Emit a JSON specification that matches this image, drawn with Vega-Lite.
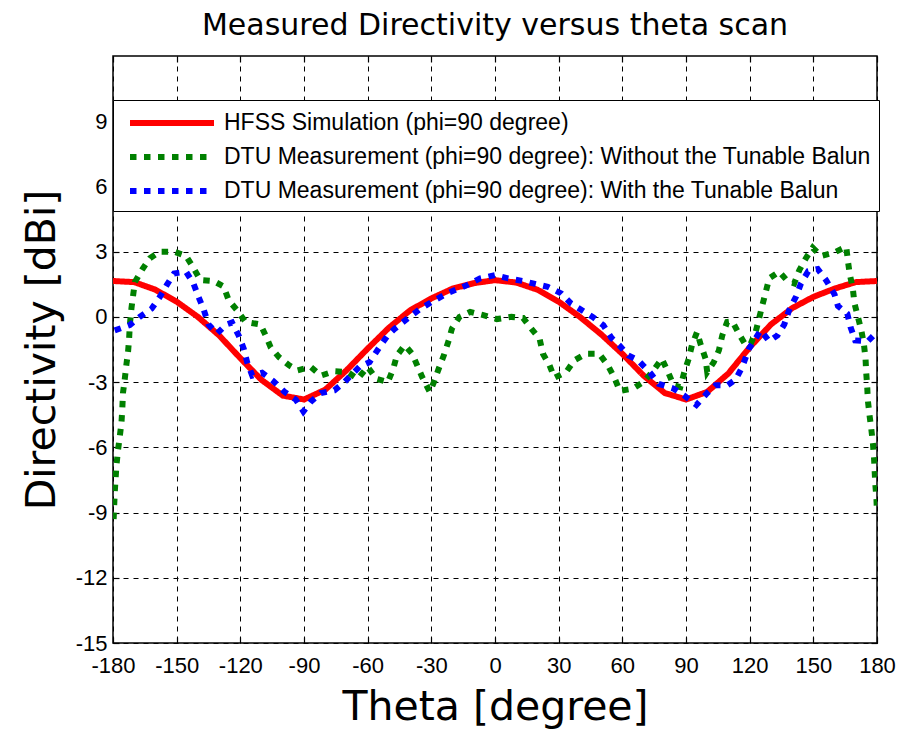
{
  "$schema": "https://vega.github.io/schema/vega-lite/v6.json",
  "autosize": "none",
  "width": 764,
  "height": 587,
  "padding": {"left": 113, "top": 56, "right": 21, "bottom": 94},
  "background": "white",
  "title": {"text": "Measured Directivity versus theta scan", "font": "DejaVu Sans", "fontSize": 30, "fontWeight": "normal", "color": "black", "offset": 14},
  "config": {
    "view": {"stroke": "black", "strokeWidth": 1.5},
    "axis": {"gridColor": "black", "gridDash": [5, 5], "gridOpacity": 1, "gridWidth": 1, "domain": false, "tickColor": "black", "tickSize": -6, "tickWidth": 1.2, "labelColor": "black", "titleColor": "black", "titleFontWeight": "normal", "labelFont": "Liberation Sans", "labelFontSize": 22, "labelExpr": "'' + datum.value"}
  },
  "data": {"values": [
    {"series": "HFSS Simulation (phi=90 degree)", "theta": -180, "dir": 1.65},
    {"series": "HFSS Simulation (phi=90 degree)", "theta": -170, "dir": 1.6},
    {"series": "HFSS Simulation (phi=90 degree)", "theta": -160, "dir": 1.25},
    {"series": "HFSS Simulation (phi=90 degree)", "theta": -150, "dir": 0.7},
    {"series": "HFSS Simulation (phi=90 degree)", "theta": -140, "dir": 0.0},
    {"series": "HFSS Simulation (phi=90 degree)", "theta": -130, "dir": -0.85},
    {"series": "HFSS Simulation (phi=90 degree)", "theta": -120, "dir": -1.9},
    {"series": "HFSS Simulation (phi=90 degree)", "theta": -110, "dir": -2.9},
    {"series": "HFSS Simulation (phi=90 degree)", "theta": -100, "dir": -3.62},
    {"series": "HFSS Simulation (phi=90 degree)", "theta": -90, "dir": -3.8},
    {"series": "HFSS Simulation (phi=90 degree)", "theta": -80, "dir": -3.35},
    {"series": "HFSS Simulation (phi=90 degree)", "theta": -70, "dir": -2.46},
    {"series": "HFSS Simulation (phi=90 degree)", "theta": -60, "dir": -1.46},
    {"series": "HFSS Simulation (phi=90 degree)", "theta": -50, "dir": -0.5},
    {"series": "HFSS Simulation (phi=90 degree)", "theta": -40, "dir": 0.3},
    {"series": "HFSS Simulation (phi=90 degree)", "theta": -30, "dir": 0.85},
    {"series": "HFSS Simulation (phi=90 degree)", "theta": -20, "dir": 1.3},
    {"series": "HFSS Simulation (phi=90 degree)", "theta": -10, "dir": 1.55},
    {"series": "HFSS Simulation (phi=90 degree)", "theta": 0, "dir": 1.69},
    {"series": "HFSS Simulation (phi=90 degree)", "theta": 10, "dir": 1.58},
    {"series": "HFSS Simulation (phi=90 degree)", "theta": 20, "dir": 1.25},
    {"series": "HFSS Simulation (phi=90 degree)", "theta": 30, "dir": 0.7},
    {"series": "HFSS Simulation (phi=90 degree)", "theta": 40, "dir": 0.0},
    {"series": "HFSS Simulation (phi=90 degree)", "theta": 50, "dir": -0.8},
    {"series": "HFSS Simulation (phi=90 degree)", "theta": 60, "dir": -1.7},
    {"series": "HFSS Simulation (phi=90 degree)", "theta": 70, "dir": -2.7},
    {"series": "HFSS Simulation (phi=90 degree)", "theta": 80, "dir": -3.5},
    {"series": "HFSS Simulation (phi=90 degree)", "theta": 90, "dir": -3.8},
    {"series": "HFSS Simulation (phi=90 degree)", "theta": 100, "dir": -3.45},
    {"series": "HFSS Simulation (phi=90 degree)", "theta": 110, "dir": -2.6},
    {"series": "HFSS Simulation (phi=90 degree)", "theta": 120, "dir": -1.4},
    {"series": "HFSS Simulation (phi=90 degree)", "theta": 130, "dir": -0.35},
    {"series": "HFSS Simulation (phi=90 degree)", "theta": 140, "dir": 0.4},
    {"series": "HFSS Simulation (phi=90 degree)", "theta": 150, "dir": 0.92},
    {"series": "HFSS Simulation (phi=90 degree)", "theta": 160, "dir": 1.3},
    {"series": "HFSS Simulation (phi=90 degree)", "theta": 170, "dir": 1.6},
    {"series": "HFSS Simulation (phi=90 degree)", "theta": 180, "dir": 1.65},

    {"series": "DTU Measurement (phi=90 degree): Without the Tunable Balun", "theta": -179.7, "dir": -9.3},
    {"series": "DTU Measurement (phi=90 degree): Without the Tunable Balun", "theta": -179.2, "dir": -8.1},
    {"series": "DTU Measurement (phi=90 degree): Without the Tunable Balun", "theta": -178.4, "dir": -6.85},
    {"series": "DTU Measurement (phi=90 degree): Without the Tunable Balun", "theta": -177.6, "dir": -6.1},
    {"series": "DTU Measurement (phi=90 degree): Without the Tunable Balun", "theta": -176.8, "dir": -5.5},
    {"series": "DTU Measurement (phi=90 degree): Without the Tunable Balun", "theta": -176.0, "dir": -4.85},
    {"series": "DTU Measurement (phi=90 degree): Without the Tunable Balun", "theta": -175.6, "dir": -4.2},
    {"series": "DTU Measurement (phi=90 degree): Without the Tunable Balun", "theta": -175.3, "dir": -3.5},
    {"series": "DTU Measurement (phi=90 degree): Without the Tunable Balun", "theta": -174.5, "dir": -2.9},
    {"series": "DTU Measurement (phi=90 degree): Without the Tunable Balun", "theta": -173.7, "dir": -2.2},
    {"series": "DTU Measurement (phi=90 degree): Without the Tunable Balun", "theta": -172.9, "dir": -1.6},
    {"series": "DTU Measurement (phi=90 degree): Without the Tunable Balun", "theta": -172.4, "dir": -1.0},
    {"series": "DTU Measurement (phi=90 degree): Without the Tunable Balun", "theta": -172.1, "dir": -0.4},
    {"series": "DTU Measurement (phi=90 degree): Without the Tunable Balun", "theta": -171.3, "dir": 0.4},
    {"series": "DTU Measurement (phi=90 degree): Without the Tunable Balun", "theta": -170.5, "dir": 1.0},
    {"series": "DTU Measurement (phi=90 degree): Without the Tunable Balun", "theta": -169.7, "dir": 1.6},
    {"series": "DTU Measurement (phi=90 degree): Without the Tunable Balun", "theta": -166.1, "dir": 2.2},
    {"series": "DTU Measurement (phi=90 degree): Without the Tunable Balun", "theta": -162.6, "dir": 2.7},
    {"series": "DTU Measurement (phi=90 degree): Without the Tunable Balun", "theta": -157.9, "dir": 3.0},
    {"series": "DTU Measurement (phi=90 degree): Without the Tunable Balun", "theta": -151.2, "dir": 3.0},
    {"series": "DTU Measurement (phi=90 degree): Without the Tunable Balun", "theta": -145.6, "dir": 2.8},
    {"series": "DTU Measurement (phi=90 degree): Without the Tunable Balun", "theta": -142.1, "dir": 2.26},
    {"series": "DTU Measurement (phi=90 degree): Without the Tunable Balun", "theta": -138.9, "dir": 1.7},
    {"series": "DTU Measurement (phi=90 degree): Without the Tunable Balun", "theta": -132.6, "dir": 1.65},
    {"series": "DTU Measurement (phi=90 degree): Without the Tunable Balun", "theta": -127.9, "dir": 1.4},
    {"series": "DTU Measurement (phi=90 degree): Without the Tunable Balun", "theta": -125.5, "dir": 0.77},
    {"series": "DTU Measurement (phi=90 degree): Without the Tunable Balun", "theta": -121.5, "dir": 0.3},
    {"series": "DTU Measurement (phi=90 degree): Without the Tunable Balun", "theta": -117.6, "dir": -0.23},
    {"series": "DTU Measurement (phi=90 degree): Without the Tunable Balun", "theta": -110.5, "dir": -0.35},
    {"series": "DTU Measurement (phi=90 degree): Without the Tunable Balun", "theta": -108.1, "dir": -0.85},
    {"series": "DTU Measurement (phi=90 degree): Without the Tunable Balun", "theta": -105.7, "dir": -1.4},
    {"series": "DTU Measurement (phi=90 degree): Without the Tunable Balun", "theta": -101.8, "dir": -1.85},
    {"series": "DTU Measurement (phi=90 degree): Without the Tunable Balun", "theta": -97.0, "dir": -2.23},
    {"series": "DTU Measurement (phi=90 degree): Without the Tunable Balun", "theta": -93.1, "dir": -2.46},
    {"series": "DTU Measurement (phi=90 degree): Without the Tunable Balun", "theta": -86.8, "dir": -2.3},
    {"series": "DTU Measurement (phi=90 degree): Without the Tunable Balun", "theta": -82.0, "dir": -2.7},
    {"series": "DTU Measurement (phi=90 degree): Without the Tunable Balun", "theta": -75.7, "dir": -2.5},
    {"series": "DTU Measurement (phi=90 degree): Without the Tunable Balun", "theta": -69.4, "dir": -2.54},
    {"series": "DTU Measurement (phi=90 degree): Without the Tunable Balun", "theta": -64.7, "dir": -2.85},
    {"series": "DTU Measurement (phi=90 degree): Without the Tunable Balun", "theta": -60.0, "dir": -2.3},
    {"series": "DTU Measurement (phi=90 degree): Without the Tunable Balun", "theta": -56.0, "dir": -2.85},
    {"series": "DTU Measurement (phi=90 degree): Without the Tunable Balun", "theta": -50.5, "dir": -3.0},
    {"series": "DTU Measurement (phi=90 degree): Without the Tunable Balun", "theta": -48.0, "dir": -2.4},
    {"series": "DTU Measurement (phi=90 degree): Without the Tunable Balun", "theta": -46.2, "dir": -1.77},
    {"series": "DTU Measurement (phi=90 degree): Without the Tunable Balun", "theta": -42.5, "dir": -1.3},
    {"series": "DTU Measurement (phi=90 degree): Without the Tunable Balun", "theta": -39.0, "dir": -1.7},
    {"series": "DTU Measurement (phi=90 degree): Without the Tunable Balun", "theta": -34.3, "dir": -2.77},
    {"series": "DTU Measurement (phi=90 degree): Without the Tunable Balun", "theta": -30.7, "dir": -3.46},
    {"series": "DTU Measurement (phi=90 degree): Without the Tunable Balun", "theta": -28.8, "dir": -3.0},
    {"series": "DTU Measurement (phi=90 degree): Without the Tunable Balun", "theta": -26.5, "dir": -2.38},
    {"series": "DTU Measurement (phi=90 degree): Without the Tunable Balun", "theta": -24.1, "dir": -1.77},
    {"series": "DTU Measurement (phi=90 degree): Without the Tunable Balun", "theta": -21.8, "dir": -1.08},
    {"series": "DTU Measurement (phi=90 degree): Without the Tunable Balun", "theta": -20.3, "dir": -0.54},
    {"series": "DTU Measurement (phi=90 degree): Without the Tunable Balun", "theta": -16.7, "dir": 0.0},
    {"series": "DTU Measurement (phi=90 degree): Without the Tunable Balun", "theta": -11.7, "dir": 0.23},
    {"series": "DTU Measurement (phi=90 degree): Without the Tunable Balun", "theta": -5.5, "dir": 0.08},
    {"series": "DTU Measurement (phi=90 degree): Without the Tunable Balun", "theta": 0.8, "dir": -0.1},
    {"series": "DTU Measurement (phi=90 degree): Without the Tunable Balun", "theta": 7.8, "dir": 0.0},
    {"series": "DTU Measurement (phi=90 degree): Without the Tunable Balun", "theta": 13.2, "dir": -0.05},
    {"series": "DTU Measurement (phi=90 degree): Without the Tunable Balun", "theta": 17.1, "dir": -0.54},
    {"series": "DTU Measurement (phi=90 degree): Without the Tunable Balun", "theta": 21.0, "dir": -1.0},
    {"series": "DTU Measurement (phi=90 degree): Without the Tunable Balun", "theta": 22.6, "dir": -1.7},
    {"series": "DTU Measurement (phi=90 degree): Without the Tunable Balun", "theta": 25.7, "dir": -2.23},
    {"series": "DTU Measurement (phi=90 degree): Without the Tunable Balun", "theta": 28.0, "dir": -2.8},
    {"series": "DTU Measurement (phi=90 degree): Without the Tunable Balun", "theta": 33.5, "dir": -2.54},
    {"series": "DTU Measurement (phi=90 degree): Without the Tunable Balun", "theta": 37.4, "dir": -2.0},
    {"series": "DTU Measurement (phi=90 degree): Without the Tunable Balun", "theta": 42.8, "dir": -1.7},
    {"series": "DTU Measurement (phi=90 degree): Without the Tunable Balun", "theta": 49.1, "dir": -1.7},
    {"series": "DTU Measurement (phi=90 degree): Without the Tunable Balun", "theta": 53.2, "dir": -2.23},
    {"series": "DTU Measurement (phi=90 degree): Without the Tunable Balun", "theta": 56.3, "dir": -2.8},
    {"series": "DTU Measurement (phi=90 degree): Without the Tunable Balun", "theta": 58.8, "dir": -3.4},
    {"series": "DTU Measurement (phi=90 degree): Without the Tunable Balun", "theta": 65.0, "dir": -3.3},
    {"series": "DTU Measurement (phi=90 degree): Without the Tunable Balun", "theta": 69.9, "dir": -3.0},
    {"series": "DTU Measurement (phi=90 degree): Without the Tunable Balun", "theta": 74.7, "dir": -2.46},
    {"series": "DTU Measurement (phi=90 degree): Without the Tunable Balun", "theta": 78.6, "dir": -1.92},
    {"series": "DTU Measurement (phi=90 degree): Without the Tunable Balun", "theta": 81.8, "dir": -2.6},
    {"series": "DTU Measurement (phi=90 degree): Without the Tunable Balun", "theta": 84.2, "dir": -3.15},
    {"series": "DTU Measurement (phi=90 degree): Without the Tunable Balun", "theta": 87.3, "dir": -3.23},
    {"series": "DTU Measurement (phi=90 degree): Without the Tunable Balun", "theta": 89.2, "dir": -2.54},
    {"series": "DTU Measurement (phi=90 degree): Without the Tunable Balun", "theta": 91.3, "dir": -1.92},
    {"series": "DTU Measurement (phi=90 degree): Without the Tunable Balun", "theta": 92.8, "dir": -1.3},
    {"series": "DTU Measurement (phi=90 degree): Without the Tunable Balun", "theta": 95.2, "dir": -0.7},
    {"series": "DTU Measurement (phi=90 degree): Without the Tunable Balun", "theta": 96.8, "dir": -1.23},
    {"series": "DTU Measurement (phi=90 degree): Without the Tunable Balun", "theta": 99.2, "dir": -1.92},
    {"series": "DTU Measurement (phi=90 degree): Without the Tunable Balun", "theta": 100.0, "dir": -2.54},
    {"series": "DTU Measurement (phi=90 degree): Without the Tunable Balun", "theta": 103.1, "dir": -2.08},
    {"series": "DTU Measurement (phi=90 degree): Without the Tunable Balun", "theta": 105.5, "dir": -1.54},
    {"series": "DTU Measurement (phi=90 degree): Without the Tunable Balun", "theta": 107.1, "dir": -0.85},
    {"series": "DTU Measurement (phi=90 degree): Without the Tunable Balun", "theta": 109.4, "dir": -0.23},
    {"series": "DTU Measurement (phi=90 degree): Without the Tunable Balun", "theta": 111.8, "dir": -0.2},
    {"series": "DTU Measurement (phi=90 degree): Without the Tunable Balun", "theta": 114.9, "dir": -0.77},
    {"series": "DTU Measurement (phi=90 degree): Without the Tunable Balun", "theta": 118.1, "dir": -1.3},
    {"series": "DTU Measurement (phi=90 degree): Without the Tunable Balun", "theta": 120.5, "dir": -1.23},
    {"series": "DTU Measurement (phi=90 degree): Without the Tunable Balun", "theta": 122.8, "dir": -0.7},
    {"series": "DTU Measurement (phi=90 degree): Without the Tunable Balun", "theta": 124.4, "dir": -0.08},
    {"series": "DTU Measurement (phi=90 degree): Without the Tunable Balun", "theta": 126.0, "dir": 0.54},
    {"series": "DTU Measurement (phi=90 degree): Without the Tunable Balun", "theta": 127.6, "dir": 1.15},
    {"series": "DTU Measurement (phi=90 degree): Without the Tunable Balun", "theta": 129.2, "dir": 1.77},
    {"series": "DTU Measurement (phi=90 degree): Without the Tunable Balun", "theta": 133.9, "dir": 2.08},
    {"series": "DTU Measurement (phi=90 degree): Without the Tunable Balun", "theta": 137.8, "dir": 1.65},
    {"series": "DTU Measurement (phi=90 degree): Without the Tunable Balun", "theta": 141.0, "dir": 1.54},
    {"series": "DTU Measurement (phi=90 degree): Without the Tunable Balun", "theta": 143.4, "dir": 2.15},
    {"series": "DTU Measurement (phi=90 degree): Without the Tunable Balun", "theta": 146.5, "dir": 2.7},
    {"series": "DTU Measurement (phi=90 degree): Without the Tunable Balun", "theta": 149.7, "dir": 3.18},
    {"series": "DTU Measurement (phi=90 degree): Without the Tunable Balun", "theta": 153.6, "dir": 2.8},
    {"series": "DTU Measurement (phi=90 degree): Without the Tunable Balun", "theta": 160.0, "dir": 2.97},
    {"series": "DTU Measurement (phi=90 degree): Without the Tunable Balun", "theta": 165.5, "dir": 3.23},
    {"series": "DTU Measurement (phi=90 degree): Without the Tunable Balun", "theta": 166.3, "dir": 2.57},
    {"series": "DTU Measurement (phi=90 degree): Without the Tunable Balun", "theta": 167.1, "dir": 2.0},
    {"series": "DTU Measurement (phi=90 degree): Without the Tunable Balun", "theta": 168.6, "dir": 1.3},
    {"series": "DTU Measurement (phi=90 degree): Without the Tunable Balun", "theta": 169.4, "dir": 0.62},
    {"series": "DTU Measurement (phi=90 degree): Without the Tunable Balun", "theta": 171.0, "dir": 0.0},
    {"series": "DTU Measurement (phi=90 degree): Without the Tunable Balun", "theta": 172.6, "dir": -0.62},
    {"series": "DTU Measurement (phi=90 degree): Without the Tunable Balun", "theta": 173.8, "dir": -1.23},
    {"series": "DTU Measurement (phi=90 degree): Without the Tunable Balun", "theta": 174.6, "dir": -1.92},
    {"series": "DTU Measurement (phi=90 degree): Without the Tunable Balun", "theta": 174.9, "dir": -2.54},
    {"series": "DTU Measurement (phi=90 degree): Without the Tunable Balun", "theta": 175.4, "dir": -3.23},
    {"series": "DTU Measurement (phi=90 degree): Without the Tunable Balun", "theta": 175.7, "dir": -3.85},
    {"series": "DTU Measurement (phi=90 degree): Without the Tunable Balun", "theta": 176.5, "dir": -4.54},
    {"series": "DTU Measurement (phi=90 degree): Without the Tunable Balun", "theta": 177.3, "dir": -5.15},
    {"series": "DTU Measurement (phi=90 degree): Without the Tunable Balun", "theta": 178.1, "dir": -5.85},
    {"series": "DTU Measurement (phi=90 degree): Without the Tunable Balun", "theta": 178.6, "dir": -6.5},
    {"series": "DTU Measurement (phi=90 degree): Without the Tunable Balun", "theta": 179.2, "dir": -7.7},
    {"series": "DTU Measurement (phi=90 degree): Without the Tunable Balun", "theta": 179.7, "dir": -8.3},
    {"series": "DTU Measurement (phi=90 degree): Without the Tunable Balun", "theta": 180, "dir": -9.0},

    {"series": "DTU Measurement (phi=90 degree): With the Tunable Balun", "theta": -179.2, "dir": -0.62},
    {"series": "DTU Measurement (phi=90 degree): With the Tunable Balun", "theta": -172.1, "dir": -0.38},
    {"series": "DTU Measurement (phi=90 degree): With the Tunable Balun", "theta": -167.4, "dir": 0.0},
    {"series": "DTU Measurement (phi=90 degree): With the Tunable Balun", "theta": -161.8, "dir": 0.38},
    {"series": "DTU Measurement (phi=90 degree): With the Tunable Balun", "theta": -158.2, "dir": 0.88},
    {"series": "DTU Measurement (phi=90 degree): With the Tunable Balun", "theta": -154.7, "dir": 1.46},
    {"series": "DTU Measurement (phi=90 degree): With the Tunable Balun", "theta": -151.2, "dir": 2.0},
    {"series": "DTU Measurement (phi=90 degree): With the Tunable Balun", "theta": -145.6, "dir": 2.08},
    {"series": "DTU Measurement (phi=90 degree): With the Tunable Balun", "theta": -142.1, "dir": 1.54},
    {"series": "DTU Measurement (phi=90 degree): With the Tunable Balun", "theta": -139.7, "dir": 0.92},
    {"series": "DTU Measurement (phi=90 degree): With the Tunable Balun", "theta": -137.3, "dir": 0.35},
    {"series": "DTU Measurement (phi=90 degree): With the Tunable Balun", "theta": -135.0, "dir": -0.35},
    {"series": "DTU Measurement (phi=90 degree): With the Tunable Balun", "theta": -131.0, "dir": -0.77},
    {"series": "DTU Measurement (phi=90 degree): With the Tunable Balun", "theta": -126.6, "dir": -0.35},
    {"series": "DTU Measurement (phi=90 degree): With the Tunable Balun", "theta": -123.9, "dir": -0.26},
    {"series": "DTU Measurement (phi=90 degree): With the Tunable Balun", "theta": -120.8, "dir": -0.85},
    {"series": "DTU Measurement (phi=90 degree): With the Tunable Balun", "theta": -118.4, "dir": -1.46},
    {"series": "DTU Measurement (phi=90 degree): With the Tunable Balun", "theta": -116.8, "dir": -2.08},
    {"series": "DTU Measurement (phi=90 degree): With the Tunable Balun", "theta": -114.4, "dir": -2.7},
    {"series": "DTU Measurement (phi=90 degree): With the Tunable Balun", "theta": -109.7, "dir": -2.57},
    {"series": "DTU Measurement (phi=90 degree): With the Tunable Balun", "theta": -104.5, "dir": -2.95},
    {"series": "DTU Measurement (phi=90 degree): With the Tunable Balun", "theta": -99.4, "dir": -3.43},
    {"series": "DTU Measurement (phi=90 degree): With the Tunable Balun", "theta": -93.9, "dir": -3.8},
    {"series": "DTU Measurement (phi=90 degree): With the Tunable Balun", "theta": -90.3, "dir": -4.35},
    {"series": "DTU Measurement (phi=90 degree): With the Tunable Balun", "theta": -86.8, "dir": -3.9},
    {"series": "DTU Measurement (phi=90 degree): With the Tunable Balun", "theta": -82.0, "dir": -3.5},
    {"series": "DTU Measurement (phi=90 degree): With the Tunable Balun", "theta": -75.7, "dir": -3.38},
    {"series": "DTU Measurement (phi=90 degree): With the Tunable Balun", "theta": -71.0, "dir": -3.0},
    {"series": "DTU Measurement (phi=90 degree): With the Tunable Balun", "theta": -63.9, "dir": -2.3},
    {"series": "DTU Measurement (phi=90 degree): With the Tunable Balun", "theta": -59.1, "dir": -2.08},
    {"series": "DTU Measurement (phi=90 degree): With the Tunable Balun", "theta": -53.8, "dir": -1.3},
    {"series": "DTU Measurement (phi=90 degree): With the Tunable Balun", "theta": -50.5, "dir": -0.85},
    {"series": "DTU Measurement (phi=90 degree): With the Tunable Balun", "theta": -47.3, "dir": -0.55},
    {"series": "DTU Measurement (phi=90 degree): With the Tunable Balun", "theta": -41.3, "dir": -0.08},
    {"series": "DTU Measurement (phi=90 degree): With the Tunable Balun", "theta": -35.1, "dir": 0.38},
    {"series": "DTU Measurement (phi=90 degree): With the Tunable Balun", "theta": -29.6, "dir": 0.7},
    {"series": "DTU Measurement (phi=90 degree): With the Tunable Balun", "theta": -22.6, "dir": 1.08},
    {"series": "DTU Measurement (phi=90 degree): With the Tunable Balun", "theta": -13.2, "dir": 1.46},
    {"series": "DTU Measurement (phi=90 degree): With the Tunable Balun", "theta": -7.0, "dir": 1.77},
    {"series": "DTU Measurement (phi=90 degree): With the Tunable Balun", "theta": 0, "dir": 1.92},
    {"series": "DTU Measurement (phi=90 degree): With the Tunable Balun", "theta": 6.2, "dir": 1.77},
    {"series": "DTU Measurement (phi=90 degree): With the Tunable Balun", "theta": 13.2, "dir": 1.65},
    {"series": "DTU Measurement (phi=90 degree): With the Tunable Balun", "theta": 17.9, "dir": 1.54},
    {"series": "DTU Measurement (phi=90 degree): With the Tunable Balun", "theta": 24.9, "dir": 1.38},
    {"series": "DTU Measurement (phi=90 degree): With the Tunable Balun", "theta": 31.2, "dir": 1.08},
    {"series": "DTU Measurement (phi=90 degree): With the Tunable Balun", "theta": 35.8, "dir": 0.62},
    {"series": "DTU Measurement (phi=90 degree): With the Tunable Balun", "theta": 39.7, "dir": 0.38},
    {"series": "DTU Measurement (phi=90 degree): With the Tunable Balun", "theta": 46.0, "dir": 0.0},
    {"series": "DTU Measurement (phi=90 degree): With the Tunable Balun", "theta": 51.0, "dir": -0.38},
    {"series": "DTU Measurement (phi=90 degree): With the Tunable Balun", "theta": 54.9, "dir": -0.97},
    {"series": "DTU Measurement (phi=90 degree): With the Tunable Balun", "theta": 58.5, "dir": -1.3},
    {"series": "DTU Measurement (phi=90 degree): With the Tunable Balun", "theta": 62.8, "dir": -1.77},
    {"series": "DTU Measurement (phi=90 degree): With the Tunable Balun", "theta": 67.5, "dir": -2.0},
    {"series": "DTU Measurement (phi=90 degree): With the Tunable Balun", "theta": 73.1, "dir": -2.57},
    {"series": "DTU Measurement (phi=90 degree): With the Tunable Balun", "theta": 77.1, "dir": -3.08},
    {"series": "DTU Measurement (phi=90 degree): With the Tunable Balun", "theta": 84.2, "dir": -3.3},
    {"series": "DTU Measurement (phi=90 degree): With the Tunable Balun", "theta": 88.9, "dir": -3.6},
    {"series": "DTU Measurement (phi=90 degree): With the Tunable Balun", "theta": 94.9, "dir": -4.05},
    {"series": "DTU Measurement (phi=90 degree): With the Tunable Balun", "theta": 100.0, "dir": -3.5},
    {"series": "DTU Measurement (phi=90 degree): With the Tunable Balun", "theta": 103.9, "dir": -3.15},
    {"series": "DTU Measurement (phi=90 degree): With the Tunable Balun", "theta": 109.4, "dir": -3.15},
    {"series": "DTU Measurement (phi=90 degree): With the Tunable Balun", "theta": 113.4, "dir": -2.88},
    {"series": "DTU Measurement (phi=90 degree): With the Tunable Balun", "theta": 116.5, "dir": -2.3},
    {"series": "DTU Measurement (phi=90 degree): With the Tunable Balun", "theta": 119.7, "dir": -1.46},
    {"series": "DTU Measurement (phi=90 degree): With the Tunable Balun", "theta": 125.2, "dir": -0.62},
    {"series": "DTU Measurement (phi=90 degree): With the Tunable Balun", "theta": 129.2, "dir": -1.12},
    {"series": "DTU Measurement (phi=90 degree): With the Tunable Balun", "theta": 133.1, "dir": -0.85},
    {"series": "DTU Measurement (phi=90 degree): With the Tunable Balun", "theta": 136.3, "dir": -0.35},
    {"series": "DTU Measurement (phi=90 degree): With the Tunable Balun", "theta": 138.6, "dir": 0.31},
    {"series": "DTU Measurement (phi=90 degree): With the Tunable Balun", "theta": 141.8, "dir": 0.92},
    {"series": "DTU Measurement (phi=90 degree): With the Tunable Balun", "theta": 144.2, "dir": 1.54},
    {"series": "DTU Measurement (phi=90 degree): With the Tunable Balun", "theta": 147.6, "dir": 2.1},
    {"series": "DTU Measurement (phi=90 degree): With the Tunable Balun", "theta": 152.1, "dir": 2.2},
    {"series": "DTU Measurement (phi=90 degree): With the Tunable Balun", "theta": 156.0, "dir": 1.69},
    {"series": "DTU Measurement (phi=90 degree): With the Tunable Balun", "theta": 160.0, "dir": 1.03},
    {"series": "DTU Measurement (phi=90 degree): With the Tunable Balun", "theta": 161.6, "dir": 0.5},
    {"series": "DTU Measurement (phi=90 degree): With the Tunable Balun", "theta": 166.0, "dir": 0.15},
    {"series": "DTU Measurement (phi=90 degree): With the Tunable Balun", "theta": 167.5, "dir": -0.46},
    {"series": "DTU Measurement (phi=90 degree): With the Tunable Balun", "theta": 169.7, "dir": -1.08},
    {"series": "DTU Measurement (phi=90 degree): With the Tunable Balun", "theta": 175.7, "dir": -1.12},
    {"series": "DTU Measurement (phi=90 degree): With the Tunable Balun", "theta": 180, "dir": -0.7}
  ]},
  "layer": [
    {
      "mark": {"type": "line", "strokeWidth": 6, "strokeCap": "butt", "clip": true},
      "encoding": {
        "x": {"field": "theta", "type": "quantitative", "scale": {"domain": [-180, 180], "nice": false, "zero": false},
          "axis": {"values": [-180, -150, -120, -90, -60, -30, 0, 30, 60, 90, 120, 150, 180], "title": "Theta [degree]", "titleFont": "DejaVu Sans", "titleFontSize": 41, "titlePadding": 11, "labelPadding": 18, "labelFlush": false}},
        "y": {"field": "dir", "type": "quantitative", "scale": {"domain": [-15, 12], "nice": false, "zero": false},
          "axis": {"values": [-15, -12, -9, -6, -3, 0, 3, 6, 9], "title": "Directivity [dBi]", "titleFont": "DejaVu Sans", "titleFontSize": 41, "titlePadding": 12, "labelPadding": 12, "labelFlush": false}},
        "color": {"field": "series", "type": "nominal",
          "scale": {"domain": ["HFSS Simulation (phi=90 degree)", "DTU Measurement (phi=90 degree): Without the Tunable Balun", "DTU Measurement (phi=90 degree): With the Tunable Balun"], "range": ["#ff0000", "#008000", "#0000ff"]},
          "legend": {"title": null, "orient": "none", "legendX": 0, "legendY": 44, "strokeColor": "black", "fillColor": "white", "padding": 8, "symbolType": "M-3.5,0H3.5", "symbolSize": 576, "symbolStrokeWidth": 6, "symbolOffset": 36, "labelOffset": 37, "labelFont": "Liberation Sans", "labelFontSize": 23, "labelColor": "black", "labelLimit": 900, "rowPadding": 7}},
        "strokeDash": {"field": "series", "type": "nominal",
          "scale": {"domain": ["HFSS Simulation (phi=90 degree)", "DTU Measurement (phi=90 degree): Without the Tunable Balun", "DTU Measurement (phi=90 degree): With the Tunable Balun"], "range": [[1, 0], [6.5, 7.5], [6.5, 7.5]]},
          "legend": {"title": null}}
      }
    },
    {
      "mark": {"type": "line", "strokeOpacity": 0},
      "encoding": {
        "x": {"field": "theta", "type": "quantitative", "axis": {"orient": "top", "values": [-180, -150, -120, -90, -60, -30, 0, 30, 60, 90, 120, 150, 180], "labels": false, "grid": false, "title": null}},
        "y": {"field": "dir", "type": "quantitative", "axis": {"orient": "right", "values": [-15, -12, -9, -6, -3, 0, 3, 6, 9], "labels": false, "grid": false, "title": null}}
      }
    }
  ],
  "resolve": {"axis": {"x": "independent", "y": "independent"}}
}
